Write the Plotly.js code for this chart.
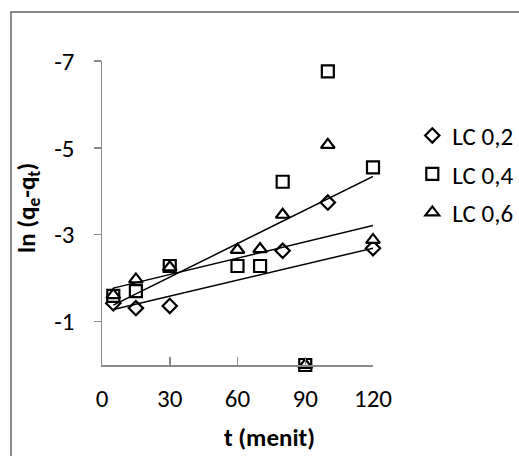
<!DOCTYPE html>
<html>
<head>
<meta charset="utf-8">
<script src="https://cdn.plot.ly/plotly-3.0.1.min.js"></script>
<style>
  html, body { margin: 0; padding: 0; background: #fff; overflow: hidden; }
  #frame { position: absolute; left: 10px; top: 11px; width: 600px; height: 600px;
           border: 2px solid #898989; box-sizing: border-box; }
  #chart { position: absolute; left: 0; top: 0; width: 519px; height: 456px; }
</style>
</head>
<body>
<div id="frame"></div>
<div id="chart"></div>
<script>
// Time (minutes)
const t = [5, 15, 30, 60, 70, 80, 90, 100, 120];
// ln(qe - qt) series (null where not visible)
const lc02 = [-1.42, -1.31, -1.36, null, null, -2.63, null, -3.74, -2.69];
const lc04 = [-1.59, -1.70, -2.28, -2.28, -2.28, -4.22, 0, -6.76, -4.55];
const lc06 = [-1.61, -1.97, -2.25, -2.65, -2.67, -3.46, 0, -5.07, -2.88];
const seriesNames = ['LC 0,2', 'LC 0,4', 'LC 0,6'];
// Linear trendlines (start, end)
const trendT = [5, 120];
const trend02 = [-1.28, -2.69];
const trend04 = [-1.38, -4.34];
const trend06 = [-1.77, -3.21];
const xTicks = [0, 30, 60, 90, 120];
const yTicks = [-7, -5, -3, -1];

const FONT = 'Carlito, Calibri, Lato, sans-serif';
const FS = 25;
const symbols = ['diamond', 'square', 'triangle-up'];
const sizes = [11, 12, 12];
const data = [];
[lc02, lc04, lc06].forEach((ys, i) => {
  data.push({
    x: t, y: ys, type: 'scatter', mode: 'markers', name: seriesNames[i],
    legendgroup: 'g' + i, cliponaxis: false,
    marker: { symbol: symbols[i], size: sizes[i], color: '#ffffff',
              line: { color: '#000000', width: 2.2 } }
  });
});
[trend02, trend04, trend06].forEach((ys, i) => {
  data.push({
    x: trendT, y: ys, type: 'scatter', mode: 'lines', showlegend: false,
    hoverinfo: 'skip', line: { color: '#000000', width: 1.5 }
  });
});

const axisCommon = {
  showgrid: false, zeroline: false, showline: true,
  linecolor: '#898989', linewidth: 1.5,
  tickcolor: '#898989', tickwidth: 1.5,
  tickfont: { family: FONT, size: FS, color: '#000' },
  tickmode: 'array', fixedrange: true, automargin: false
};

const layout = {
  width: 519, height: 456,
  margin: { l: 102, r: 146, t: 61, b: 91, autoexpand: false },
  paper_bgcolor: 'rgba(0,0,0,0)', plot_bgcolor: 'rgba(0,0,0,0)',
  showlegend: true,
  font: { family: FONT, color: '#000' },
  xaxis: Object.assign({}, axisCommon, {
    range: [0, 120], tickvals: xTicks, ticktext: xTicks.map(String),
    ticks: 'inside', ticklen: 8, ticklabelstandoff: 10
  }),
  yaxis: Object.assign({}, axisCommon, {
    range: [0, -7], tickvals: yTicks, ticktext: yTicks.map(String),
    ticks: 'outside', ticklen: 7, ticklabelstandoff: 14
  }),
  legend: {
    x: 1.145, xanchor: 'left', y: 0.83, yanchor: 'top',
    font: { family: FONT, size: FS, color: '#000' },
    tracegroupgap: 3, itemwidth: 30, bgcolor: 'rgba(0,0,0,0)'
  },
  annotations: [
    { xref: 'paper', yref: 'paper', x: (269 - 102) / 271, y: -(437 - 365) / 304,
      xanchor: 'center', yanchor: 'middle', showarrow: false,
      text: '<b>t (menit)</b>', font: { family: FONT, size: FS, color: '#000' } },
    { xref: 'paper', yref: 'paper', x: -(102 - 28) / 271, y: (365 - 208) / 304,
      xanchor: 'center', yanchor: 'middle', showarrow: false, textangle: -90,
      text: '<b>ln (q<sub>e</sub>-q<sub>t</sub>)</b>', font: { family: FONT, size: FS, color: '#000' } }
  ]
};

Plotly.newPlot('chart', data, layout, { displayModeBar: false, staticPlot: true });
</script>
</body>
</html>
